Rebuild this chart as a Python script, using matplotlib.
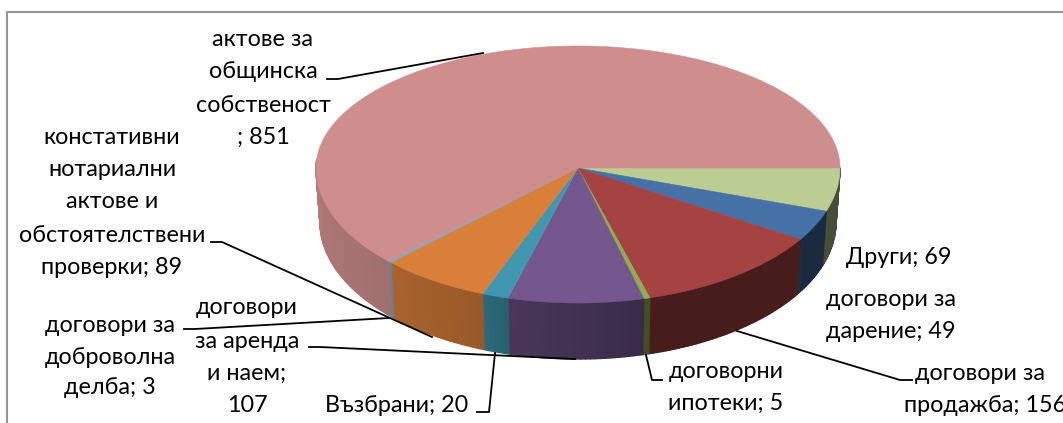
import numpy as np
import matplotlib
matplotlib.use('Agg')
import matplotlib.pyplot as plt
from matplotlib.collections import PolyCollection
from matplotlib.colors import to_rgb

# slices, clockwise from the east
names = ['Други', 'договори за дарение', 'договори за продажба', 'договорни ипотеки',
         'договори за аренда и наем', 'Възбрани', 'констативни нотариални актове и обстоятелствени проверки',
         'договори за доброволна делба', 'актове за общинска собственост']
values = [69, 49, 156, 5, 107, 20, 89, 3, 851]
colors = ['#BBCD92', '#4671A6', '#A44341', '#8DAF4F', '#755790', '#4197AF', '#D97F3A', '#7FA6C8', '#CE8E8D']

W, H = 1063, 423
plt.rcParams['font.family'] = ['Lato', 'Open Sans', 'DejaVu Sans']


def warp(a):
    # the picture has some perspective, front-left slices sit a bit further round
    return a + np.interp(a, [0, 75, 103, 108, 132, 360], [0, 1, 2.5, 3, 3.5, 0])


def top_xy(a):
    t = np.radians(warp(a))
    s = np.sin(t)
    ry = np.where(s > 0, 135, 122)
    return 578 + 262 * np.cos(t), 168 + ry * s


def bottom_xy(a):
    t = np.radians(warp(a))
    return 578 + 258 * np.cos(t), 222 + 137 * np.sin(t)


def shade(a):
    return np.interp(a, [0, 30, 32, 73, 75, 103, 108, 132, 180],
                     [0.38, 0.38, 0.43, 0.43, 0.50, 0.63, 0.70, 0.78, 0.86])


fig = plt.figure(figsize=(W / 100, H / 100), dpi=100)
ax = fig.add_axes([0, 0, 1, 1])
ax.set_xlim(0, W)
ax.set_ylim(H, 0)
ax.axis('off')

# chart frame, only top and left show
ax.plot([7, 7, W], [H, 12, 12], color='#969696', lw=1.5, zorder=1)

# leader lines
leaders = [
    ([327, 338, 483], [79, 79, 53]),
    ([211, 222, 432], [242, 242, 337]),
    ([184, 195, 389], [329, 329, 318]),
    ([309, 320, 575], [347, 347, 359]),
    ([477, 489, 495], [412, 412, 353]),
    ([662, 652, 646], [380, 380, 355]),
    ([912, 900, 737], [380, 380, 331]),
]
for lx, ly in leaders:
    ax.plot(lx, ly, color='k', lw=1.3, zorder=5)

# angles of the slices from the values
edges = np.concatenate([[0], np.cumsum(values)]) / np.sum(values) * 360

# outer wall, front half only
for i in range(len(values)):
    a0, a1 = edges[i], min(edges[i + 1], 181)
    if a0 >= a1:
        continue
    aa = np.linspace(a0, a1, max(int(a1 - a0), 2) + 1)
    xt, yt = top_xy(aa)
    xb, yb = bottom_xy(aa)
    quads = []
    cols = []
    base = np.array(to_rgb(colors[i]))
    for k in range(len(aa) - 1):
        quads.append([(xt[k], yt[k]), (xt[k + 1], yt[k + 1]), (xb[k + 1], yb[k + 1]), (xb[k], yb[k])])
        cols.append(base * shade((aa[k] + aa[k + 1]) / 2))
    ax.add_collection(PolyCollection(quads, facecolors=cols, edgecolors=cols, linewidths=1.0, zorder=3))

# top face
for i in range(len(values)):
    aa = np.linspace(edges[i], edges[i + 1], int(edges[i + 1] - edges[i]) * 2 + 2)
    xt, yt = top_xy(aa)
    ax.fill(np.r_[578, xt], np.r_[168, yt], facecolor=colors[i], edgecolor=colors[i], lw=0.4, zorder=4)

labels = [
    (263, [40, 72, 105, 137], ['актове за', 'общинска', 'собственост', '; 851']),
    (112, [137, 169, 202, 235, 268], ['констативни', 'нотариални', 'актове и', 'обстоятелствени', 'проверки; 89']),
    (110, [325, 357, 388], ['договори за', 'доброволна', 'делба; 3']),
    (247, [308, 341, 373, 405], ['договори', 'за аренда', 'и наем;', '107']),
    (397, [405], ['Възбрани; 20']),
    (726, [372, 403], ['договорни', 'ипотеки; 5']),
    (899, [257], ['Други; 69']),
    (891, [300, 332], ['договори за', 'дарение; 49']),
    (980, [373], ['договори за']),
    (985, [405], ['продажба; 156']),
]
for cx, ys, lines in labels:
    for y, s in zip(ys, lines):
        ax.text(cx, y, s, ha='center', va='center', fontsize=16.8, color='k', zorder=6)

fig.savefig('out.png', dpi=100)
